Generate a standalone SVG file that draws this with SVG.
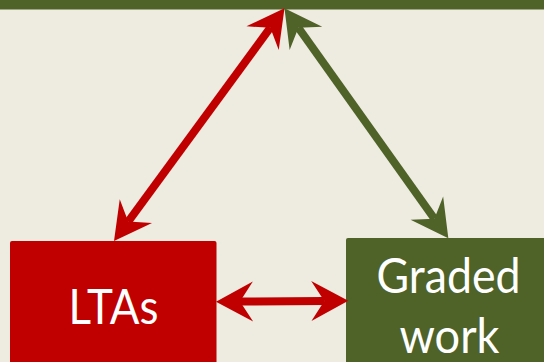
<svg xmlns="http://www.w3.org/2000/svg" width="544" height="362" viewBox="0 0 544 362">
  <defs>
    <style>
      .bg { fill: #EEEBE0; }
      .red-fill { fill: #C00000; }
      .green-fill { fill: #4F6228; }
      .link { fill: none; stroke-width: 8; stroke-linecap: butt; }
      .link-red { stroke: #C00000; marker-start: url(#head-red); marker-end: url(#head-red); }
      .link-green { stroke: #4F6228; marker-start: url(#head-green); marker-end: url(#head-green); }
      .label { fill: #FFFFFF; font-family: "Lato", "Open Sans", "Liberation Sans", sans-serif; font-size: 48px; text-anchor: middle; }
    </style>
    <!-- Concave arrowheads; tip sits 24px beyond the line end -->
    <marker id="head-red" viewBox="-40 -22 42 44" markerWidth="42" markerHeight="44" refX="-24" refY="0" orient="auto-start-reverse" markerUnits="userSpaceOnUse" overflow="visible">
      <path d="M0,0 L-37,-20 L-24,0 L-37,20 Z" fill="#C00000"/>
    </marker>
    <marker id="head-green" viewBox="-40 -22 42 44" markerWidth="42" markerHeight="44" refX="-24" refY="0" orient="auto-start-reverse" markerUnits="userSpaceOnUse" overflow="visible">
      <path d="M0,0 L-37,-20 L-24,0 L-37,20 Z" fill="#4F6228"/>
    </marker>
  </defs>

  <rect class="bg" x="0" y="0" width="544" height="362"/>

  <!-- Top bar -->
  <g id="top">
    <rect class="green-fill" x="-10" y="-40" width="564" height="49.5"/>
  </g>

  <!-- LTAs box -->
  <g id="ltas">
    <rect class="red-fill" x="10" y="241" width="206.5" height="130" rx="2"/>
    <text class="label" x="113.5" y="323.7" textLength="90" lengthAdjust="spacingAndGlyphs">LTAs</text>
  </g>

  <!-- Graded work box -->
  <g id="graded-work">
    <rect class="green-fill" x="346" y="238" width="210" height="130" rx="2"/>
    <text class="label" x="448.5" y="292.5" textLength="144" lengthAdjust="spacingAndGlyphs">Graded</text>
    <text class="label" x="449.5" y="353" textLength="100" lengthAdjust="spacingAndGlyphs">work</text>
  </g>

  <!-- Connectors -->
  <g id="connectors">
    <line class="link link-red" x1="270.3" y1="27.7" x2="128.2" y2="221.6"/>
    <line class="link link-green" x1="298.4" y1="27.8" x2="434.4" y2="218.8"/>
    <line class="link link-red" x1="240" y1="301.5" x2="324.3" y2="300.9"/>
  </g>
</svg>
